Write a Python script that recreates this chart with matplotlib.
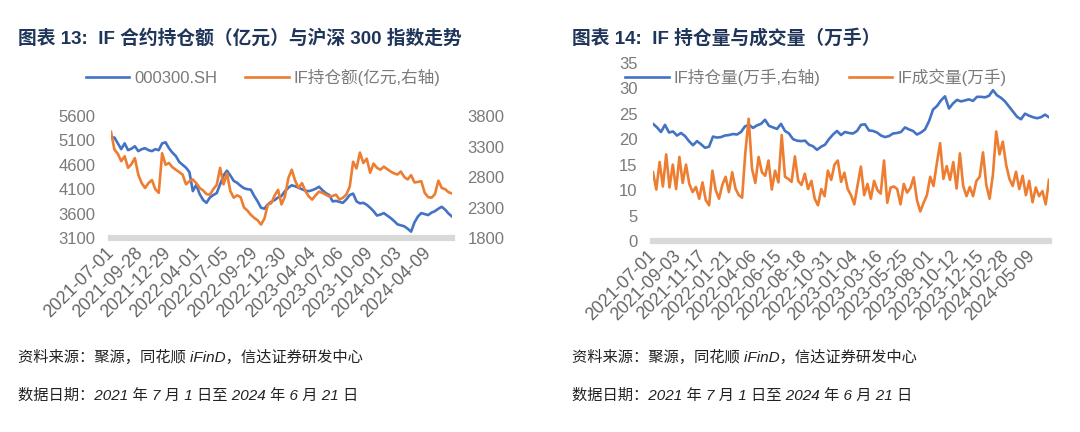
import numpy as np
import matplotlib
matplotlib.use("Agg")
import matplotlib.pyplot as plt
from matplotlib.lines import Line2D

# ---------------------------------------------------------------- data
N_DAYS = 722   # trading days 2021-07-01 .. 2024-06-21

# chart 13: CSI 300 close (left axis) and IF open-interest amount, 100m CNY (right axis)
hs300 = [5150, 5160, 5040, 4920, 5040, 4900, 4930, 4980, 4880, 4920,
         4940, 4900, 4880, 4920, 4900, 5040, 5060, 4940, 4850, 4780,
         4660, 4600, 4540, 4450, 4060, 4190, 4000, 3880, 3820, 3930,
         3980, 4020, 4200, 4380, 4480, 4380, 4270, 4230, 4170, 4120,
         4100, 4090, 3960, 3850, 3720, 3700, 3790, 3840, 3880, 3930,
         3960, 4060, 4130, 4180, 4160, 4130, 4100, 4070, 4060, 4080,
         4110, 4150, 4080, 4020, 3980, 3850, 3860, 3840, 3820, 3890,
         3980, 4010, 3850, 3810, 3820, 3780, 3720, 3650, 3560, 3580,
         3610, 3560, 3510, 3450, 3380, 3360, 3340, 3290, 3230, 3420,
         3540, 3610, 3590, 3570, 3620, 3650, 3700, 3740, 3680, 3600,
         3540]
if_amount = [3540, 3250, 3180, 3060, 3140, 2950, 3010, 3110, 2840, 2700,
             2620, 2700, 2750, 2600, 2540, 3190, 3000, 3030, 2960, 2920,
             2880, 2840, 2680, 2730, 2760, 2700, 2620, 2580, 2520, 2510,
             2600, 2670, 2950, 2680, 2860, 2570, 2460, 2500, 2470, 2300,
             2250, 2180, 2130, 2090, 2020, 2120, 2350, 2370, 2500, 2590,
             2350, 2480, 2780, 2920, 2740, 2620, 2700, 2570, 2480, 2430,
             2500, 2560, 2540, 2510, 2480, 2490, 2510, 2430, 2460, 2510,
             2640, 3050, 2940, 3200, 3030, 3100, 2870, 3020, 2950, 2920,
             2970, 2930, 2890, 2860, 2840, 2890, 2800, 2760, 2830, 2710,
             2720, 2730, 2540, 2470, 2460, 2520, 2740, 2620, 2600, 2550,
             2530]

# chart 14: IF open interest and volume, 10k lots
if_oi = [23.0, 22.3, 21.4, 22.8, 21.3, 21.5, 20.7, 21.2, 20.6, 19.6,
         18.8, 19.6, 19.0, 18.3, 18.5, 20.5, 20.3, 20.4, 20.7, 20.8,
         21.0, 20.9, 21.4, 22.5, 22.8, 22.2, 22.7, 23.0, 23.8, 22.6,
         22.3, 22.0, 23.0, 21.6, 21.1, 20.0, 19.7, 19.6, 19.7, 18.9,
         18.6, 17.9, 18.5, 18.9, 20.0, 20.9, 21.6, 20.8, 21.4, 21.2,
         21.1, 21.6, 22.8, 22.9, 21.7, 21.6, 21.3, 20.7, 20.4, 20.6,
         21.1, 21.2, 21.4, 22.3, 21.9, 21.6, 20.9, 21.3, 21.9, 23.5,
         25.8, 26.5, 27.6, 28.4, 26.0, 27.0, 27.7, 27.4, 27.6, 27.8,
         27.5, 28.3, 28.3, 28.2, 28.5, 29.6, 28.6, 28.1, 27.4, 26.4,
         25.4, 24.4, 23.9, 25.0, 24.6, 24.3, 24.1, 24.3, 24.8, 24.3]
if_vol = [13.5, 10.1, 15.5, 10.7, 17.0, 10.5, 15.0, 10.2, 16.5, 11.4,
          15.0, 11.2, 9.6, 10.6, 8.3, 11.5, 8.0, 7.0, 13.8, 10.0,
          8.3, 11.0, 12.6, 9.6, 13.5, 10.3, 9.0, 8.5, 17.5, 24.0,
          14.2, 11.4, 16.5, 13.5, 12.8, 15.8, 10.1, 13.8, 11.5, 20.8,
          12.6, 12.2, 11.6, 16.6, 11.8, 11.0, 13.2, 10.2, 11.8, 8.3,
          7.0, 10.2, 8.8, 13.8, 12.0, 15.0, 15.8, 11.6, 13.4, 10.2,
          9.0, 7.2, 11.0, 14.6, 9.0, 11.2, 8.3, 11.8, 10.0, 9.3,
          15.8, 7.5, 10.5, 10.7, 10.2, 7.2, 11.2, 9.5, 10.4, 12.5,
          8.0, 5.8, 7.5, 9.0, 12.6, 10.8, 15.2, 19.2, 12.2, 14.7,
          12.0, 15.5, 10.3, 17.2, 10.8, 8.8, 10.6, 8.8, 11.8, 12.6,
          17.4, 11.0, 8.3, 13.0, 21.5, 17.0, 19.5, 15.0, 12.2, 10.8,
          13.6, 10.2, 12.8, 9.0, 11.8, 7.6, 10.5, 8.8, 9.8, 7.2,
          12.0]

left_dates = ["2021-07-01", "2021-09-28", "2021-12-29", "2022-04-01",
              "2022-07-05", "2022-09-29", "2022-12-30", "2023-04-04",
              "2023-07-06", "2023-10-09", "2024-01-03", "2024-04-09"]
right_dates = ["2021-07-01", "2021-09-03", "2021-11-17", "2022-01-21",
               "2022-04-06", "2022-06-15", "2022-08-18", "2022-10-31",
               "2023-01-04", "2023-03-16", "2023-05-25", "2023-08-01",
               "2023-10-12", "2023-12-15", "2024-02-28", "2024-05-09"]
LEFT_STEP, RIGHT_STEP = 61, 46     # trading days between category labels

# ---------------------------------------------------------------- style
plt.rcParams["font.family"] = ["Liberation Sans", "Noto Sans CJK SC", "DejaVu Sans"]
BLUE = "#4472C4"
ORANGE = "#ED7D31"
AXIS_GREY = "#D9D9D9"
TICK_C = "#7A7A7A"
XTICK_C = "#666666"
TITLE_C = "#1F3559"
W, H = 1080, 432

fig = plt.figure(figsize=(W / 100, H / 100), dpi=100)


def frame(x0, x1, ytop, ybot):
    return [x0 / W, 1 - ybot / H, (x1 - x0) / W, (ybot - ytop) / H]


def clean(ax, keep_bottom=True):
    for s in ("top", "right", "left", "bottom"):
        ax.spines[s].set_visible(False)
    if keep_bottom:
        ax.spines["bottom"].set_visible(True)
        ax.spines["bottom"].set(color=AXIS_GREY, linewidth=4.5)
    ax.tick_params(length=0, labelsize=12, colors=TICK_C, pad=11)
    ax.patch.set_visible(False)


def xlabels(ax, step, labels):
    ax.set_xticks(np.arange(len(labels)) * step)
    ax.set_xticklabels(labels, rotation=45, ha="right", va="center",
                       rotation_mode="anchor", color=XTICK_C, fontsize=12.8)
    ax.tick_params(axis="x", pad=9)


# ---------------------------------------------------------------- chart 13
ax1 = fig.add_axes(frame(111, 452, 116, 238))
clean(ax1)
x_a = np.linspace(0, N_DAYS - 1, len(hs300))
ax1.plot(x_a, hs300, color=BLUE, lw=1.9)
ax1.set_xlim(0, N_DAYS - 1)
ax1.set_ylim(3100, 5600)
ax1.set_yticks(np.arange(3100, 5601, 500))
xlabels(ax1, LEFT_STEP, left_dates)

ax1r = ax1.twinx()
clean(ax1r, keep_bottom=False)
x_b = np.linspace(0, N_DAYS - 1, len(if_amount))
ax1r.plot(x_b, if_amount, color=ORANGE, lw=1.9)
ax1r.set_ylim(1800, 3800)
ax1r.set_yticks(np.arange(1800, 3801, 500))

h1 = [Line2D([], [], color=BLUE, lw=1.9), Line2D([], [], color=ORANGE, lw=1.9)]
fig.legend(h1, ["000300.SH", "IF持仓额(亿元,右轴)"], loc="center",
           bbox_to_anchor=(263 / W, 1 - 77 / H), ncol=2, frameon=False,
           fontsize=12, labelcolor=TICK_C, handlelength=2.6,
           handletextpad=0.3, columnspacing=1.7)

# ---------------------------------------------------------------- chart 14
ax2 = fig.add_axes(frame(653, 1049, 62.7, 241))
clean(ax2)
x_c = np.linspace(0, N_DAYS - 1, len(if_oi))
x_d = np.linspace(0, N_DAYS - 1, len(if_vol))
ax2.plot(x_c, if_oi, color=BLUE, lw=1.9)
ax2.plot(x_d, if_vol, color=ORANGE, lw=1.9)
ax2.set_xlim(0, N_DAYS - 1)
ax2.set_ylim(0, 35)
ax2.set_yticks(np.arange(0, 36, 5))
xlabels(ax2, RIGHT_STEP, right_dates)

fig.legend(h1, ["IF持仓量(万手,右轴)", "IF成交量(万手)"], loc="center",
           bbox_to_anchor=(816 / W, 1 - 77 / H), ncol=2, frameon=False,
           fontsize=12, labelcolor=TICK_C, handlelength=2.6,
           handletextpad=0.3, columnspacing=1.7)

# ---------------------------------------------------------------- titles and notes
fig.text(18 / W, 1 - 38 / H, "图表 13:  IF 合约持仓额（亿元）与沪深 300 指数走势",
         fontsize=13.5, fontweight="bold", color=TITLE_C, va="center")
fig.text(572 / W, 1 - 38 / H, "图表 14:  IF 持仓量与成交量（万手）",
         fontsize=13.5, fontweight="bold", color=TITLE_C, va="center")

for x0 in (18, 572):
    fig.text(x0 / W, 1 - 357 / H, "资料来源：聚源，同花顺 iFinD，信达证券研发中心",
             fontsize=11, style="italic", color="#222222", va="center")
    fig.text(x0 / W, 1 - 396 / H, "数据日期：2021 年 7 月 1 日至 2024 年 6 月 21 日",
             fontsize=11, style="italic", color="#222222", va="center")

fig.savefig("out.png", dpi=100)
